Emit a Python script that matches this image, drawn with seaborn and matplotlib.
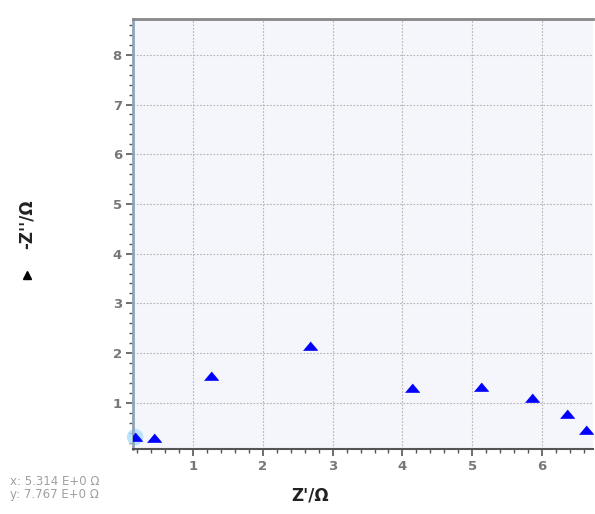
import matplotlib
matplotlib.use("Agg")
import matplotlib.pyplot as plt
from matplotlib.lines import Line2D
from matplotlib.ticker import MultipleLocator
import seaborn as sns
import pandas as pd

# Data
z_real = [0.17, 0.44, 1.26, 2.68, 4.13, 5.13, 5.86, 6.36, 6.63]
z_imag = [0.31, 0.30, 1.54, 2.14, 1.30, 1.32, 1.10, 0.78, 0.46]
x_ticks = [1, 2, 3, 4, 5, 6]
y_ticks = [1, 2, 3, 4, 5, 6, 7, 8]
x_label = "Z'/Ω"
y_label = "-Z''/Ω"
cursor_text = "x: 5.314 E+0 Ω\ny: 7.767 E+0 Ω"

df = pd.DataFrame({"zr": z_real, "zi": z_imag})

sns.set_style("white")
plt.rcParams['font.family'] = ['DejaVu Sans']

fig = plt.figure(figsize=(5.95, 5.14), dpi=100)
ax = fig.add_axes([133/595, 1-449/514, (593-133)/595, (449-19)/514])
ax.set_facecolor("#f5f5fc")

flat_tri = [(-1.0, -0.55), (1.0, -0.55), (0.0, 0.65)]

# highlight halo around the first (selected) point
ax.scatter(df["zr"].iloc[:1], df["zi"].iloc[:1], s=140, color="#a8dcff",
           alpha=0.8, edgecolor="none", zorder=2, clip_on=False)
sns.scatterplot(data=df, x="zr", y="zi", ax=ax, marker=flat_tri, s=105,
                color="#0000ff", edgecolor="#0000ff", linewidth=0.5,
                zorder=3, clip_on=True)

ax.set_xlim(0.14, 6.73)
ax.set_ylim(0.07, 8.72)
ax.set_xticks(x_ticks)
ax.set_yticks(y_ticks)
ax.xaxis.set_minor_locator(MultipleLocator(0.2))
ax.yaxis.set_minor_locator(MultipleLocator(0.2))

ax.grid(True, which="major", color="#b4b4b4", linestyle=(0, (1.5, 1.5)), linewidth=0.8)
ax.set_axisbelow(True)

ax.tick_params(axis="both", which="major", direction="out", length=5, width=1.2,
               color="#555555", labelcolor="#777777", labelsize=9.5, pad=3,
               bottom=True, left=True)
ax.tick_params(axis="both", which="minor", direction="out", length=3, width=1.0,
               color="#555555", bottom=True, left=True)
for lab in ax.get_xticklabels() + ax.get_yticklabels():
    lab.set_fontweight("bold")

ax.spines["left"].set_color("#8fa4b8")
ax.spines["left"].set_linewidth(2.0)
ax.spines["bottom"].set_color("#555555")
ax.spines["bottom"].set_linewidth(1.5)
ax.spines["top"].set_color("#888888")
ax.spines["top"].set_linewidth(2.0)
ax.spines["right"].set_visible(False)

ax.set_xlabel("")
ax.set_ylabel("")
fig.text(310/595, 1-495/514, x_label, ha="center", va="center",
         fontsize=12, fontweight="bold", color="#222222")
fig.text(27/595, 1-224/514, y_label, ha="center", va="center", rotation=90,
         fontsize=12, fontweight="bold", color="#222222")

# legend marker
fig.add_artist(Line2D([27/595], [1-275/514], marker="^", color="black",
                      markersize=6, linestyle="none", transform=fig.transFigure))

fig.text(10/595, 1-488/514, cursor_text, ha="left", va="center",
         fontsize=8.5, color="#a0a0a0", linespacing=1.0)

fig.savefig("out.png", dpi=100)
